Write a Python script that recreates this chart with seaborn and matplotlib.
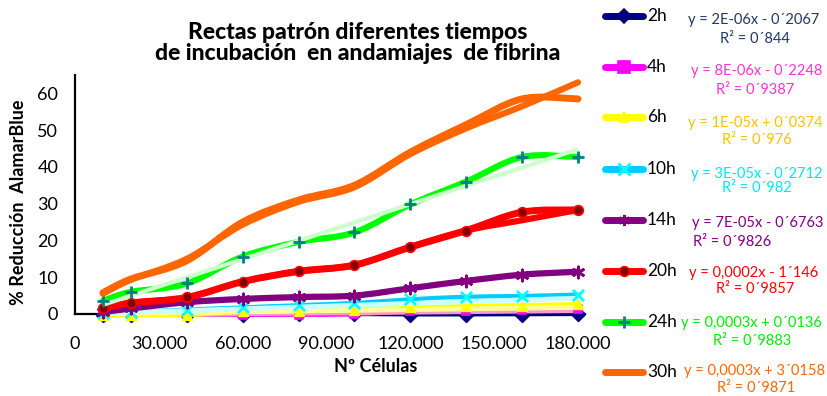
import numpy as np
import matplotlib
matplotlib.use("Agg")
import matplotlib.pyplot as plt
from matplotlib.path import Path
from matplotlib.patches import PathPatch
from matplotlib.lines import Line2D
import seaborn as sns

# ---- data -------------------------------------------------------------
cells = [10000, 20000, 40000, 60000, 80000, 100000, 120000, 140000, 160000, 180000]

h2 = [-0.25, -0.2, -0.2, -0.15, -0.1, -0.1, -0.2, -0.2, -0.15, -0.1]
h4 = [-0.2, -0.2, -0.1, -0.2, -0.2, -0.1, 0.7, 0.9, 1.1, 1.3]
h6 = [-0.2, -0.2, -0.2, 0.7, 0.9, 1.1, 1.8, 2.1, 2.3, 2.6]
h10 = [0.2, 0.5, 1.2, 1.8, 2.4, 3.0, 4.0, 4.7, 4.9, 5.3]
h14 = [0.5, 1.5, 3.2, 4.1, 4.6, 5.0, 7.0, 9.0, 10.7, 11.5]
h20 = [1.5, 3.0, 4.5, 8.8, 11.6, 13.3, 18.2, 22.7, 27.7, 28.3]
h20_b = [1.5, 3.0, 4.5, 8.8, 11.6, 13.3, 18.2, 22.7, 25.5, 28.3]
h24 = [3.6, 6.0, 8.3, 15.6, 19.6, 22.2, 29.8, 36.0, 42.7, 42.7]
h30 = [5.8, 9.5, 14.5, 25.0, 31.0, 35.0, 44.0, 51.5, 58.5, 58.5]
h30_b = [5.5, 9.3, 15.0, 24.3, 30.5, 34.5, 43.5, 50.5, 56.5, 63.0]

# linear trend lines: value at first and last cell count
trend_x = [10000, 180000]
trend_4h = [0.0, 1.2]
trend_6h = [0.1, 1.8]
trend_10h = [0.2, 4.3]
trend_24h = [2.5, 44.8]

series_labels = ["2h", "4h", "6h", "10h", "14h", "20h", "24h", "30h"]
equations = ["y = 2E-06x - 0´2067", "y = 8E-06x - 0´2248", "y = 1E-05x + 0´0374",
             "y = 3E-05x - 0´2712", "y = 7E-05x - 0´6763", "y = 0,0002x - 1´146",
             "y = 0,0003x + 0´0136", "y = 0,0003x + 3´0158"]
r_squared = ["R² = 0´844", "R² = 0´9387", "R² = 0´976", "R² = 0´982",
             "R² = 0´9826", "R² = 0´9857", "R² = 0´9883", "R² = 0´9871"]

x_ticks = [0, 30000, 60000, 90000, 120000, 150000, 180000]
y_ticks = [0, 10, 20, 30, 40, 50, 60]

# ---- styles -----------------------------------------------------------
line_colors = ["#000080", "#ff00ff", "#ffff00", "#00ccff", "#800080", "#ff0000", "#00ff00", "#ff6600"]
line_widths = [2.5, 3.0, 3.5, 3.0, 4.5, 5.0, 4.5, 5.0]
markers = ["D", "s", "^", "x", (6, 2, 0), "o", "+", None]
marker_face = ["#000080", "#ff00ff", "#ffff00", "#00ffff", "#800080", "#800000", "#008080", None]
marker_edge = ["#000080", "#ff00ff", "#ffff00", "#00ffff", "#800080", "#ff0000", "#008080", None]
marker_size = [7, 6, 7, 8, 8, 7, 9, 0]
eq_colors = ["#1f3864", "#ff33cc", "#ffc000", "#00e5ff", "#800080", "#ff0000", "#00ee00", "#ff6600"]

sns.set_theme(style="white")
plt.rcParams["font.family"] = ["Lato", "DejaVu Sans"]

W, H = 827, 396
fig = plt.figure(figsize=(W / 100, H / 100), dpi=100)
ax = fig.add_axes([75 / W, (H - 314) / H, (585 - 75) / W, (314 - 75) / H])
ax.set_xlim(0, 180000 * 510 / 503)
ax.set_ylim(0, 65)


def smooth_path(xs, ys):
    pts = np.column_stack([xs, ys]).astype(float)
    verts = [pts[0]]
    codes = [Path.MOVETO]
    n = len(pts)
    for i in range(n - 1):
        p0 = pts[i - 1] if i > 0 else pts[i]
        p1, p2 = pts[i], pts[i + 1]
        p3 = pts[i + 2] if i + 2 < n else pts[i + 1]
        verts += [p1 + (p2 - p0) / 6, p2 - (p3 - p1) / 6, p2]
        codes += [Path.CURVE4] * 3
    return Path(verts, codes)


def smooth_line(ys, color, lw, z):
    patch = PathPatch(smooth_path(cells, ys), fill=False, edgecolor=color, lw=lw,
                      capstyle="round", joinstyle="round", zorder=z, clip_on=False)
    ax.add_patch(patch)


def trend(vals, color, lw, z):
    sns.lineplot(x=trend_x, y=vals, color=color, lw=lw, ax=ax, zorder=z,
                 solid_capstyle="butt", clip_on=False)


def point_markers(ys, i, z):
    m = markers[i]
    if m is None:
        return
    ms = marker_size[i]
    filled = m in ("D", "s", "^", "o")
    kw = dict(x=cells, y=ys, marker=m, s=ms ** 2, ax=ax, zorder=z, clip_on=False, legend=False)
    if filled:
        sns.scatterplot(color=marker_face[i], edgecolor=marker_edge[i], linewidth=1.2, **kw)
    else:
        sns.scatterplot(color=marker_edge[i], linewidth=2.0, **kw)


all_series = [h2, h4, h6, h10, h14, h20, h24, h30]
trend_by_series = {1: (trend_4h, "#ff99cc", 5.0), 2: (trend_6h, "#ffff99", 3.5),
                   3: (trend_10h, "#ccffff", 3.5), 6: (trend_24h, "#ccffcc", 3.0)}

for i, ys in enumerate(all_series):
    z = 3 + i
    smooth_line(ys, line_colors[i], line_widths[i], z)
    if i == 5:
        smooth_line(h20_b, line_colors[i], line_widths[i] - 0.5, z - 0.1)
    if i == 7:
        smooth_line(h30_b, line_colors[i], line_widths[i] - 0.5, z - 0.1)
    point_markers(ys, i, z + 0.5)
    if i in trend_by_series:
        vals, col, lw = trend_by_series[i]
        trend(vals, col, lw, z + 0.3 if i == 6 else z + 0.2)

# ---- axes ---------------------------------------------------------------
for side in ["top", "right"]:
    ax.spines[side].set_visible(False)
for side in ["left", "bottom"]:
    ax.spines[side].set_color("black")
    ax.spines[side].set_linewidth(1.6)
    ax.spines[side].set_zorder(2)

ax.set_xticks(x_ticks)
ax.set_xticklabels([f"{v:,}".replace(",", ".") for v in x_ticks])
ax.set_yticks(y_ticks)
ax.set_yticklabels([str(v) for v in y_ticks])
ax.tick_params(axis="x", direction="out", length=4, width=1.6, pad=12, labelsize=13, colors="black")
ax.tick_params(axis="y", direction="out", length=5, width=1.6, pad=7, labelsize=13, colors="black")
ax.grid(False)
ax.set_xlabel("")
ax.set_ylabel("")

fig.text(19 / W, 1 - 202 / H, "% Reducción  AlamarBlue", rotation=90, ha="center", va="center",
         fontsize=13, fontweight="bold", color="black")
fig.text(376 / W, 1 - 366 / H, "Nº Células", ha="center", va="center",
         fontsize=13, fontweight="bold", color="black")
fig.text(358 / W, 1 - 43 / H, "Rectas patrón diferentes tiempos\nde incubación  en andamiajes  de fibrina",
         ha="center", va="center", fontsize=16.5, fontweight="black", color="black", linespacing=1.05)

# ---- legend with trend equations ---------------------------------------
legend_y = [16, 67, 117, 169, 220, 271, 322, 372]
eq_pos = [(754, 20), (757, 71), (755, 123), (757, 174), (758, 223), (754, 273), (751, 323), (755, 371)]
r2_pos = [(755, 39), (755, 90), (757, 140), (757, 188), (693, 242), (755, 289), (752, 341), (756, 388)]

for i, lab in enumerate(series_labels):
    yf = 1 - legend_y[i] / H
    fig.add_artist(Line2D([605 / W, 643 / W], [yf, yf], transform=fig.transFigure,
                          color=line_colors[i], lw=5, solid_capstyle="round"))
    if markers[i] is not None:
        m = markers[i]
        filled = m in ("D", "s", "^", "o")
        fig.add_artist(Line2D([624 / W], [yf], transform=fig.transFigure, marker=m,
                              markersize=marker_size[i] + (2 if m == "s" else 0),
                              markerfacecolor=marker_face[i] if filled else "none",
                              markeredgecolor=marker_edge[i], markeredgewidth=1.2 if filled else 2.0,
                              linestyle="none"))
    fig.text(647 / W, yf, lab, ha="left", va="center", fontsize=12.5, color="black")
    ex, ey = eq_pos[i]
    fig.text(ex / W, 1 - ey / H, equations[i], ha="center", va="center", fontsize=10.5,
             color=eq_colors[i])
    rx, ry = r2_pos[i]
    fig.text(rx / W, 1 - ry / H, r_squared[i], ha="left" if i == 4 else "center", va="center",
             fontsize=10.5, color=eq_colors[i])

fig.savefig("out.png", dpi=100, facecolor="white")
